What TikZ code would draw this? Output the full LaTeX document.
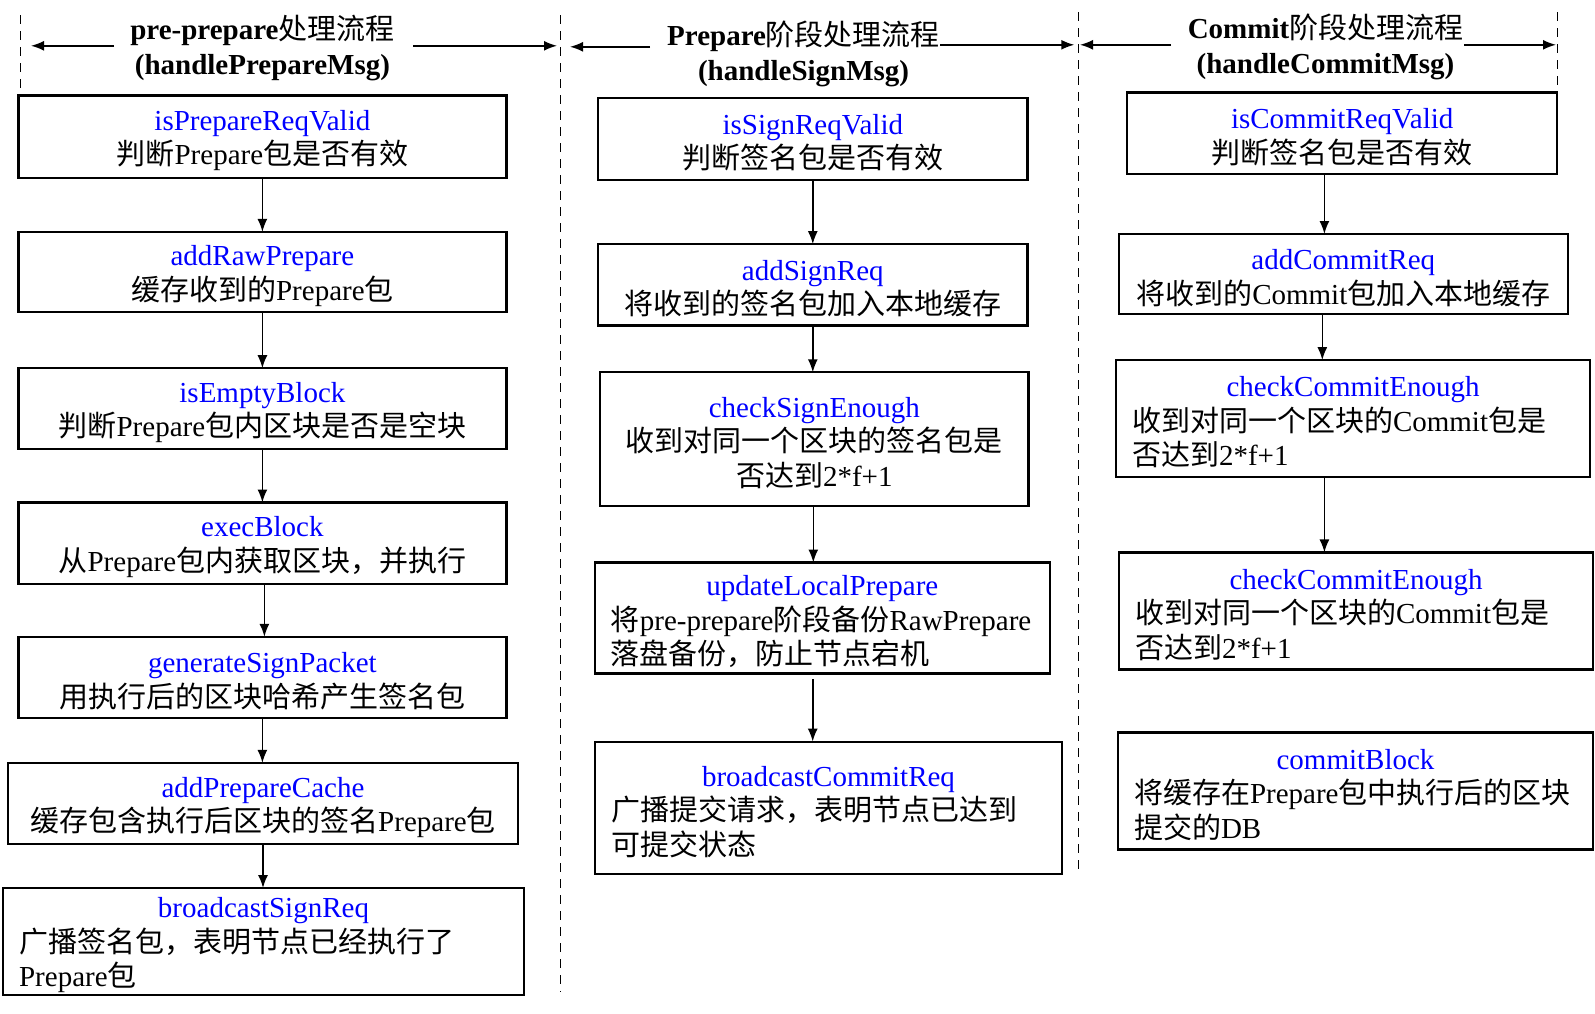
\documentclass[tikz,border=0pt]{standalone}
\usepackage{fontspec}
\setmainfont{Liberation Serif}
\newfontfamily\cjk{Noto Sans CJK SC}[BoldFont={Noto Sans CJK SC}]
\usetikzlibrary{arrows.meta,positioning}
\setlength\parindent{0pt}

% switch to the CJK family for Han characters and full-width punctuation
\XeTeXinterchartokenstate=1
\newXeTeXintercharclass\cjkcls
\count255="4E00
\loop \XeTeXcharclass\count255=\cjkcls \ifnum\count255<"9FFF \advance\count255 by 1 \repeat
\XeTeXcharclass"FF0C=\cjkcls
\XeTeXinterchartoks 0 \cjkcls = {\begingroup\cjk}
\XeTeXinterchartoks 4095 \cjkcls = {\begingroup\cjk}
\XeTeXinterchartoks \cjkcls 0 = {\endgroup}
\XeTeXinterchartoks \cjkcls 4095 = {\endgroup}

\newcommand\fn[1]{\rule{0pt}{28pt}\textcolor{blue}{#1}}
\newcommand\fnl[1]{\rule{0pt}{28pt}\hfill\textcolor{blue}{#1}\hfill\null}

\begin{document}
\begin{tikzpicture}[
  x=1pt, y=-1pt,
  font=\fontsize{29}{34.5}\selectfont,
  line/.style={draw, -{Latex[length=13pt,width=10pt]}, line width=1.6pt},
  sep/.style={draw, line width=1.6pt, dash pattern=on 9pt off 7pt},
  proc/.style={rectangle, draw, line width=2.2pt, outer sep=0pt, align=center, inner sep=0pt},
  procl/.style={rectangle, draw, line width=2.2pt, outer sep=0pt, align=left, inner xsep=16pt, inner ysep=0pt},
  head/.style={align=center, font=\fontsize{29}{34.5}\selectfont\bfseries}
]
\useasboundingbox (0,0) rectangle (1595,1014);

% =======================================================
%                     SEPARATORS / HEADINGS
% =======================================================
\coordinate (s0t) at (20.3,15.3);   \coordinate (s0b) at (20.3,96.6);
\coordinate (s1t) at (560.5,15.3);  \coordinate (s1b) at (560.5,991.9);
\coordinate (s2t) at (1078.3,12.2); \coordinate (s2b) at (1078.3,874.8);
\coordinate (s3t) at (1557.4,12.2); \coordinate (s3b) at (1557.4,91.6);
\draw[sep] (s0t) -- (s0b);
\draw[sep] (s1t) -- (s1b);
\draw[sep] (s2t) -- (s2b);
\draw[sep] (s3t) -- (s3b);

\node[head] (head1) at (262.4,47.8) {pre-prepare处理流程\\(handlePrepareMsg)};
\node[head] (head2) at (803.6,53.9) {Prepare阶段处理流程\\(handleSignMsg)};
\node[head] (head3) at (1325.5,46.8) {Commit阶段处理流程\\(handleCommitMsg)};

\coordinate (h1l) at (114,45.8);  \coordinate (h1r) at (413,45.8);
\coordinate (h2l) at (650,46.8);  \coordinate (h2r) at (940,44.8);
\coordinate (h3l) at (1171,44.8); \coordinate (h3r) at (1464,44.8);
\draw[line] (h1l) -- ([xshift=10.7pt]s0t |- h1l);
\draw[line] (h1r) -- ([xshift=-3.5pt]s1t |- h1r);
\draw[line] (h2l) -- ([xshift=9.5pt]s1t |- h2l);
\draw[line] (h2r) -- ([xshift=-4pt]s2t |- h2r);
\draw[line] (h3l) -- ([xshift=1.7pt]s2t |- h3l);
\draw[line] (h3r) -- ([xshift=-1.4pt]s3t |- h3r);

% =======================================================
%                     PRE-PREPARE
% =======================================================
\node[proc, minimum width=488pt, minimum height=82.4pt] (isprep) at (262.4,136.8)
  {\fn{isPrepareReqValid}\\判断Prepare包是否有效};
\node[proc, minimum width=488pt, minimum height=80.4pt, below=53.9pt of isprep] (addraw)
  {\fn{addRawPrepare}\\缓存收到的Prepare包};
\node[proc, minimum width=488pt, minimum height=80.4pt, below=55.9pt of addraw] (isempty)
  {\fn{isEmptyBlock}\\判断Prepare包内区块是否是空块};
\node[proc, minimum width=488pt, minimum height=81.4pt, below=53.9pt of isempty] (exec)
  {\fn{execBlock}\\从Prepare包内获取区块，并执行};
\node[proc, minimum width=488pt, minimum height=81.4pt, below=52.9pt of exec] (gensign)
  {\fn{generateSignPacket}\\用执行后的区块哈希产生签名包};
\node[proc, minimum width=509.6pt, minimum height=81.4pt, below=44.7pt of gensign, xshift=0.6pt] (addcache)
  {\fn{addPrepareCache}\\缓存包含执行后区块的签名Prepare包};
\node[procl, text width=488.8pt, minimum height=106.8pt, below=43.7pt of addcache, xshift=0.5pt] (bcsign)
  {\fnl{broadcastSignReq}\\广播签名包，表明节点已经执行了\\Prepare包};

% =======================================================
%                     PREPARE
% =======================================================
\node[proc, minimum width=429.3pt, minimum height=82.4pt] (issign) at (812.8,138.9)
  {\fn{isSignReqValid}\\判断签名包是否有效};
\node[proc, minimum width=429.3pt, minimum height=81.4pt, below=64pt of issign] (addsign)
  {\fn{addSignReq}\\将收到的签名包加入本地缓存};
\node[proc, minimum width=428.2pt, minimum height=133.3pt, below=46.8pt of addsign, xshift=1.5pt] (chksign)
  {\fn{checkSignEnough}\\收到对同一个区块的签名包是\\否达到2*f+1};
\node[procl, text width=422.7pt, minimum height=110.9pt, below=56.9pt of chksign, xshift=8pt] (updlocal)
  {\fnl{updateLocalPrepare}\\将pre-prepare阶段备份RawPrepare\\落盘备份，防止节点宕机};
\node[procl, text width=434.9pt, minimum height=132.2pt, below=68.2pt of updlocal, xshift=6.2pt] (bccommit)
  {\fnl{broadcastCommitReq}\\广播提交请求，表明节点已达到\\可提交状态};

% =======================================================
%                     COMMIT
% =======================================================
\node[proc, minimum width=430.3pt, minimum height=81.4pt] (iscommit) at (1342.2,133.3)
  {\fn{isCommitReqValid}\\判断签名包是否有效};
\node[proc, minimum width=448.6pt, minimum height=80.3pt, below=60pt of iscommit, xshift=1.1pt] (addcommit)
  {\fn{addCommitReq}\\将收到的Commit包加入本地缓存};
\node[procl, text width=442pt, minimum height=117pt, below=45.8pt of addcommit, xshift=9.7pt] (chkcommit)
  {\fnl{checkCommitEnough}\\收到对同一个区块的Commit包是\\否达到2*f+1};
\node[procl, text width=442pt, minimum height=117pt, below=75.3pt of chkcommit, xshift=3pt] (chkcommitb)
  {\fnl{checkCommitEnough}\\收到对同一个区块的Commit包是\\否达到2*f+1};
\node[procl, text width=443pt, minimum height=117pt, below=63.1pt of chkcommitb, xshift=-0.5pt] (commitblk)
  {\fnl{commitBlock}\\将缓存在Prepare包中执行后的区块\\提交的DB};

% =======================================================
%                     CONNECTIONS
% =======================================================
\draw[line] (isprep.south) -- (isprep.south |- addraw.north);
\draw[line] (addraw.south) -- (addraw.south |- isempty.north);
\draw[line] (isempty.south) -- (isempty.south |- exec.north);
\draw[line] ([xshift=2pt]exec.south) -- ([xshift=2pt]exec.south |- gensign.north);
\draw[line] (gensign.south) -- (gensign.south |- addcache.north);
\draw[line] (addcache.south) -- (addcache.south |- bcsign.north);

\draw[line] (issign.south) -- (issign.south |- addsign.north);
\draw[line] (addsign.south) -- (addsign.south |- chksign.north);
\draw[line] ([xshift=-1pt]chksign.south) -- ([xshift=-1pt]chksign.south |- updlocal.north);
\draw[line, shorten <=6pt] ([xshift=-9.6pt]updlocal.south) -- ([xshift=-9.6pt]updlocal.south |- bccommit.north);

\draw[line] ([xshift=-17.8pt]iscommit.south) -- ([xshift=-17.8pt]iscommit.south |- addcommit.north);
\draw[line] ([xshift=-21pt]addcommit.south) -- ([xshift=-21pt]addcommit.south |- chkcommit.north);
\draw[line] ([xshift=-28.6pt]chkcommit.south) -- ([xshift=-28.6pt]chkcommit.south |- chkcommitb.north);

\end{tikzpicture}
\end{document}
